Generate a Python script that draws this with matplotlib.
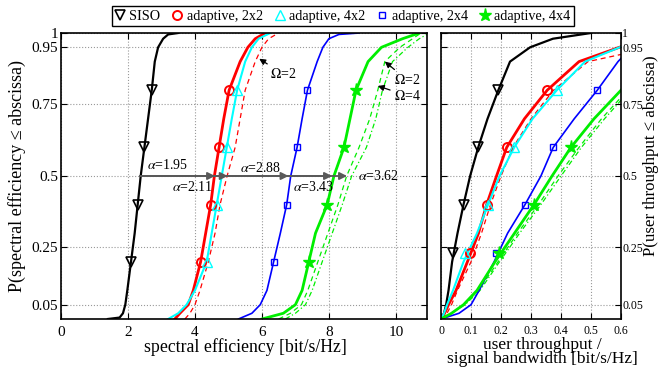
import matplotlib
matplotlib.use("Agg")
import matplotlib.pyplot as plt
from matplotlib.lines import Line2D
import numpy as np

plt.rcParams['font.family'] = ['Liberation Serif', 'DejaVu Serif']
plt.rcParams['font.size'] = 10
plt.rcParams['mathtext.fontset'] = 'stix'

# probability levels shared by most curves
p_std = [0, 0.02, 0.05, 0.1, 0.2, 0.3, 0.4, 0.5, 0.6, 0.7, 0.8, 0.9, 0.95, 0.98, 1.0]

# left panel: spectral efficiency [bit/s/Hz]
se_p_siso = [0, 0.005, 0.02, 0.05, 0.1, 0.2, 0.3, 0.4, 0.5, 0.6, 0.7, 0.8, 0.9, 0.95, 0.98, 0.995, 1.0]
se_siso = [1.4, 1.75, 1.85, 1.92, 1.98, 2.09, 2.2, 2.29, 2.38, 2.49, 2.6, 2.71, 2.8, 2.9, 3.05, 3.2, 3.5]
se_2x2 = [3.4, 3.55, 3.8, 3.95, 4.17, 4.32, 4.47, 4.58, 4.72, 4.86, 5.02, 5.35, 5.58, 5.8, 6.1]
se_4x2 = [3.2, 3.5, 3.75, 4.0, 4.35, 4.5, 4.65, 4.8, 4.95, 5.1, 5.26, 5.5, 5.7, 5.9, 6.25]
se_2x2_om2 = [3.7, 3.85, 4.0, 4.15, 4.4, 4.6, 4.75, 4.96, 5.2, 5.35, 5.5, 5.8, 6.0, 6.2, 6.5]
se_p_2x4 = [0, 0.02, 0.05, 0.1, 0.2, 0.3, 0.4, 0.5, 0.6, 0.7, 0.8, 0.9, 0.95, 0.98, 0.995, 1.0]
se_2x4 = [5.3, 5.7, 5.95, 6.15, 6.35, 6.55, 6.74, 6.86, 7.05, 7.2, 7.36, 7.65, 7.82, 8.0, 8.3, 8.9]
se_4x4 = [6.0, 6.64, 7.0, 7.2, 7.4, 7.6, 7.95, 8.15, 8.45, 8.63, 8.81, 9.17, 9.57, 10.2, 10.7]
se_4x4_om2 = [6.5, 6.85, 7.18, 7.37, 7.67, 7.97, 8.27, 8.53, 8.9, 9.22, 9.46, 9.67, 10.12, 10.5, 10.75]
se_4x4_om4 = [6.7, 7.0, 7.3, 7.5, 7.8, 8.1, 8.4, 8.68, 9.12, 9.4, 9.6, 9.9, 10.36, 10.7, 11.0]

# markers on left panel (p = 0.2, 0.4, 0.6, 0.8)
se_mark_p = [0.2, 0.4, 0.6, 0.8]
se_mark_siso = [2.09, 2.29, 2.49, 2.71]
se_mark_2x2 = [4.17, 4.47, 4.72, 5.02]
se_mark_4x2 = [4.35, 4.65, 4.95, 5.26]
se_mark_2x4 = [6.35, 6.74, 7.05, 7.36]
se_mark_4x4 = [7.4, 7.95, 8.45, 8.81]

# gains of the median relative to SISO
siso_median = 2.36
alpha_vals = [1.95, 2.11, 2.88, 3.43, 3.62]

# right panel: user throughput / signal bandwidth
tp_siso = [0.0, 0.01, 0.017, 0.025, 0.037, 0.055, 0.075, 0.097, 0.124, 0.155, 0.191, 0.23, 0.297, 0.373, 0.5]
tp_p_2x2 = [0, 0.02, 0.05, 0.1, 0.2, 0.3, 0.4, 0.5, 0.6, 0.7, 0.8, 0.9, 0.952]
tp_2x2 = [0.0, 0.012, 0.025, 0.05, 0.088, 0.125, 0.152, 0.185, 0.219, 0.278, 0.354, 0.46, 0.6]
tp_4x2 = [0.0, 0.01, 0.02, 0.04, 0.075, 0.12, 0.157, 0.195, 0.244, 0.305, 0.386, 0.48, 0.6]
tp_p_2x2_om2 = [0, 0.02, 0.05, 0.1, 0.2, 0.3, 0.4, 0.5, 0.6, 0.7, 0.8, 0.9, 0.925]
tp_2x2_om2 = [0.0, 0.02, 0.035, 0.055, 0.1, 0.135, 0.165, 0.2, 0.24, 0.3, 0.375, 0.49, 0.6]
tp_p_2x4 = [0, 0.02, 0.05, 0.1, 0.2, 0.3, 0.4, 0.5, 0.6, 0.7, 0.8, 0.9, 0.911]
tp_2x4 = [0.0, 0.06, 0.1, 0.127, 0.177, 0.222, 0.28, 0.333, 0.374, 0.444, 0.521, 0.59, 0.6]
tp_p_4x4 = [0, 0.02, 0.05, 0.1, 0.2, 0.3, 0.4, 0.5, 0.6, 0.7, 0.8]
tp_4x4 = [0.0, 0.035, 0.075, 0.12, 0.18, 0.245, 0.31, 0.37, 0.433, 0.51, 0.6]
tp_p_4x4_om2 = [0, 0.02, 0.05, 0.1, 0.2, 0.3, 0.4, 0.5, 0.6, 0.7, 0.775]
tp_4x4_om2 = [0.0, 0.035, 0.078, 0.125, 0.19, 0.255, 0.325, 0.39, 0.46, 0.535, 0.6]
tp_p_4x4_om4 = [0, 0.02, 0.05, 0.1, 0.2, 0.3, 0.4, 0.5, 0.6, 0.7, 0.765]
tp_4x4_om4 = [0.0, 0.035, 0.08, 0.13, 0.195, 0.262, 0.333, 0.4, 0.468, 0.545, 0.6]

tp_mark_p = [0.23, 0.4, 0.6, 0.8]
tp_mark_siso = [0.041, 0.075, 0.124, 0.191]
tp_mark_2x2 = [0.097, 0.152, 0.219, 0.354]
tp_mark_4x2 = [0.08, 0.157, 0.244, 0.386]
tp_mark_2x4 = [0.182, 0.28, 0.374, 0.521]
tp_mark_4x4 = [0.193, 0.31, 0.433]

y_ticks = [0.05, 0.25, 0.5, 0.75, 0.95, 1]
y_ticklabels = ['0.05', '0.25', '0.5', '0.75', '0.95', '1']

legend_names = ['SISO', 'adaptive, 2x2', 'adaptive, 4x2', 'adaptive, 2x4', 'adaptive, 4x4']

BLACK, RED, CYAN, BLUE, GREEN = 'k', '#ff0000', '#00ffff', '#0000ff', '#00ee00'
styles = [
    dict(color=BLACK, marker='v', mfc='none', ms=6.5, mew=1.2),
    dict(color=RED, marker='o', mfc='none', ms=6.5, mew=1.4),
    dict(color=CYAN, marker='^', mfc='none', ms=6.5, mew=1.0),
    dict(color=BLUE, marker='s', mfc='none', ms=5, mew=1.0),
    dict(color=GREEN, marker='*', mfc=GREEN, ms=9.5, mew=1.0),
]


def style_axes(ax, tick_size):
    ax.set_ylim(0, 1)
    ax.set_yticks(y_ticks)
    ax.set_yticklabels(y_ticklabels)
    ax.grid(True, linestyle=':', color='0.6', linewidth=0.8)
    ax.tick_params(direction='in', top=True, right=True, length=4, width=0.8,
                   labelsize=tick_size)
    ax.tick_params(axis='x', pad=5)
    ax.tick_params(axis='y', pad=2)
    for s in ax.spines.values():
        s.set_linewidth(1.2)


fig = plt.figure(figsize=(6.61, 3.78), dpi=100)
ax1 = fig.add_axes([0.0923, 0.1561, 0.5537, 0.7566])
ax2 = fig.add_axes([0.6672, 0.1561, 0.2723, 0.7566])

# ---- left panel
ax1.plot(se_siso, se_p_siso, color=BLACK, lw=1.6)
ax1.plot(se_2x2_om2, p_std, color=RED, lw=0.9, ls=(0, (4, 3)))
ax1.plot(se_4x4_om2, p_std, color=GREEN, lw=0.9, ls=(0, (4, 3)))
ax1.plot(se_4x4_om4, p_std, color=GREEN, lw=0.9, ls=(0, (4, 2, 1, 2)))
ax1.plot(se_2x2, p_std, color=RED, lw=2.0)
ax1.plot(se_4x2, p_std, color=CYAN, lw=1.5)
ax1.plot(se_2x4, se_p_2x4, color=BLUE, lw=1.2)
ax1.plot(se_4x4, p_std, color=GREEN, lw=2.0)
for xs, st in zip([se_mark_siso, se_mark_2x2, se_mark_4x2, se_mark_2x4, se_mark_4x4], styles):
    ax1.plot(xs, se_mark_p, ls='none', **st)

for a in alpha_vals:
    ax1.annotate('', xy=(a * siso_median, 0.5), xytext=(siso_median, 0.5),
                 arrowprops=dict(arrowstyle='-|>', color='0.35', lw=1.3, mutation_scale=11,
                                 shrinkA=0, shrinkB=0))
ax1.text(2.56, 0.515, r'$\alpha$=1.95', ha='left', va='bottom')
ax1.text(3.3, 0.485, r'$\alpha$=2.11', ha='left', va='top')
ax1.text(5.34, 0.505, r'$\alpha$=2.88', ha='left', va='bottom')
ax1.text(6.92, 0.485, r'$\alpha$=3.43', ha='left', va='top')
ax1.text(8.86, 0.5, r'$\alpha$=3.62', ha='left', va='center')

arrow_kw = dict(arrowstyle='-|>', color='k', lw=0.9, mutation_scale=9, shrinkA=1, shrinkB=0)
ax1.annotate(r'$\Omega$=2', xy=(5.92, 0.91), xytext=(6.25, 0.855), ha='left', va='center',
             arrowprops=arrow_kw)
ax1.annotate(r'$\Omega$=2', xy=(9.67, 0.9), xytext=(9.95, 0.835), ha='left', va='center',
             arrowprops=arrow_kw)
ax1.annotate(r'$\Omega$=4', xy=(9.46, 0.815), xytext=(9.95, 0.78), ha='left', va='center',
             arrowprops=arrow_kw)

ax1.set_xlim(0, 10.93)
ax1.set_xticks([0, 2, 4, 6, 8, 10])
style_axes(ax1, 11)

# ---- right panel
ax2.plot(tp_siso, p_std, color=BLACK, lw=1.6)
ax2.plot(tp_2x2_om2, tp_p_2x2_om2, color=RED, lw=0.9, ls=(0, (4, 3)))
ax2.plot(tp_4x4_om2, tp_p_4x4_om2, color=GREEN, lw=0.9, ls=(0, (4, 3)))
ax2.plot(tp_4x4_om4, tp_p_4x4_om4, color=GREEN, lw=0.9, ls=(0, (4, 2, 1, 2)))
ax2.plot(tp_2x2, tp_p_2x2, color=RED, lw=2.0)
ax2.plot(tp_4x2, tp_p_2x2, color=CYAN, lw=1.5)
ax2.plot(tp_2x4, tp_p_2x4, color=BLUE, lw=1.2)
ax2.plot(tp_4x4, tp_p_4x4, color=GREEN, lw=2.0)
for xs, st in zip([tp_mark_siso, tp_mark_2x2, tp_mark_4x2, tp_mark_2x4, tp_mark_4x4], styles):
    ax2.plot(xs, tp_mark_p[:len(xs)], ls='none', **st)

ax2.set_xlim(0, 0.6)
ax2.set_xticks([0, 0.1, 0.2, 0.3, 0.4, 0.5, 0.6])
ax2.set_xticklabels(['0', '0.1', '0.2', '0.3', '0.4', '0.5', '0.6'])
style_axes(ax2, 8.5)
ax2.yaxis.tick_right()
ax2.tick_params(left=True, labelleft=False, labelright=True)
ax2.tick_params(axis='y', pad=1)
ax2.tick_params(axis='x', pad=4)

# axis labels placed by figure position
fig.text(17 / 661, 0.534, 'P(spectral efficiency ≤ abscissa)', rotation=90,
         ha='center', va='center', fontsize=13)
fig.text(0.3707, 0.082, 'spectral efficiency [bit/s/Hz]', ha='center', va='center',
         fontsize=12.8)
fig.text(651 / 661, 0.588, 'P(user throughput ≤ abscissa)', rotation=90,
         ha='center', va='center', fontsize=12.2)
fig.text(0.8207, 0.069, 'user throughput /\nsignal bandwidth [bit/s/Hz]', ha='center',
         va='center', fontsize=12.5, linespacing=0.9)

handles = [Line2D([], [], ls='none', **st) for st in styles]
fig.legend(handles, legend_names, loc='center', bbox_to_anchor=(0.519, 0.957), ncol=5,
           frameon=True, fancybox=False, edgecolor='k', fontsize=10.2, handlelength=0.6,
           handletextpad=0.38, columnspacing=0.88, borderpad=0.25, framealpha=1)

fig.savefig('out.png', dpi=100)
